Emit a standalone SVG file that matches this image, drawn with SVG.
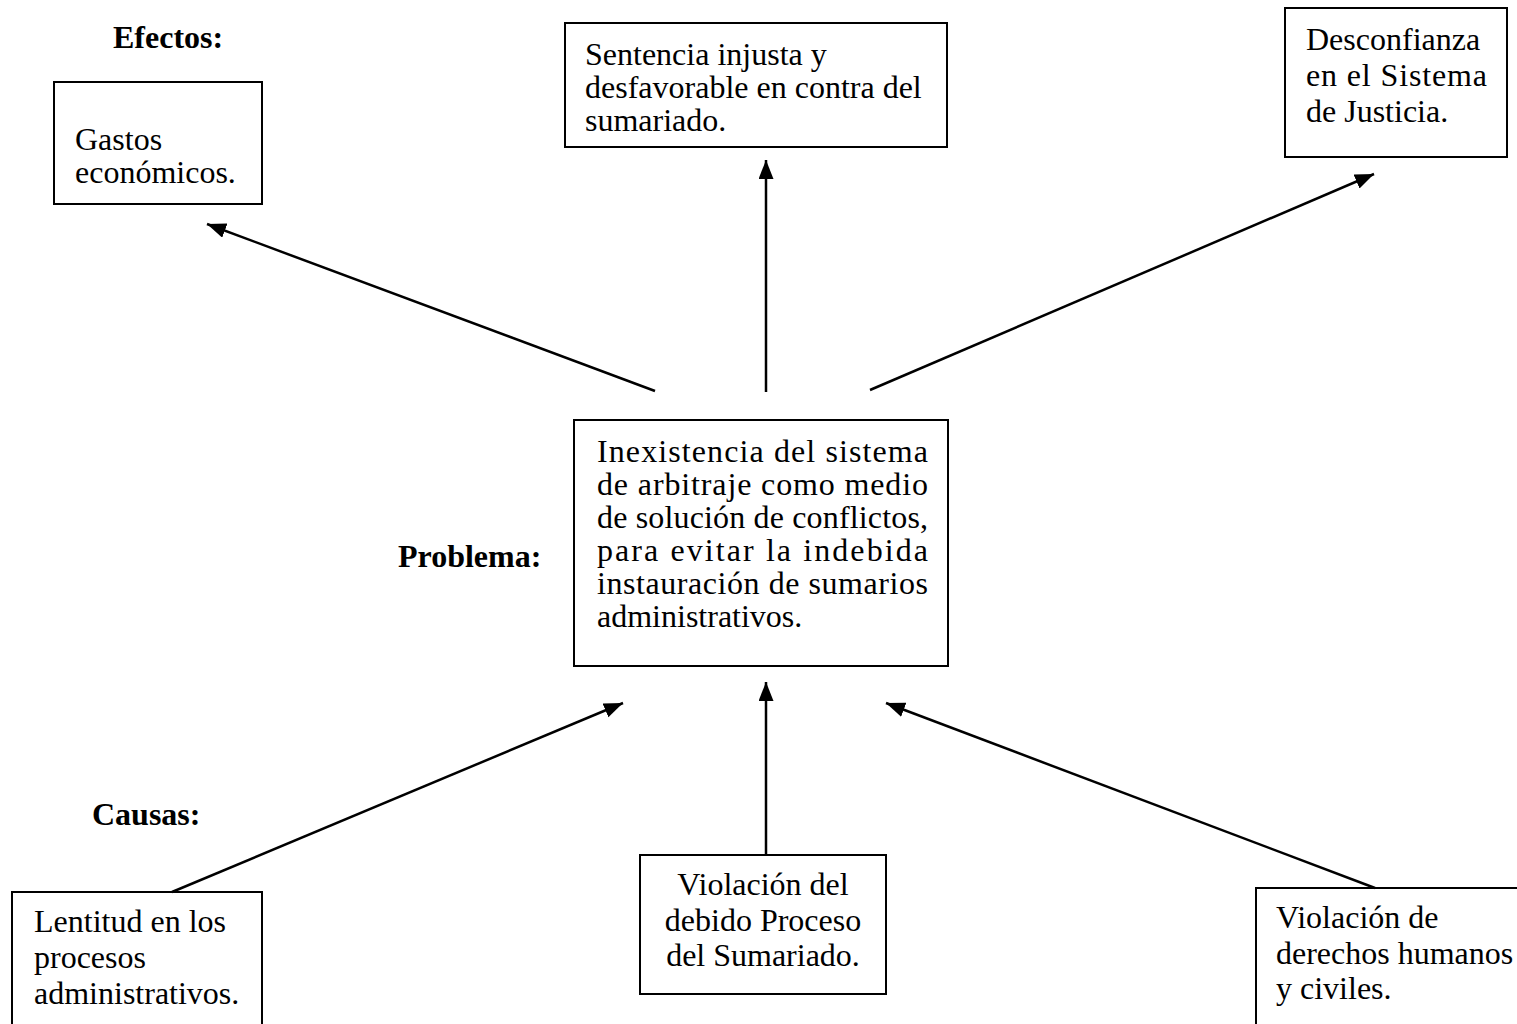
<svg xmlns="http://www.w3.org/2000/svg" width="1517" height="1024" viewBox="0 0 1517 1024">
<defs>
<style>
.box{fill:#fff;stroke:#000;stroke-width:2}
.t{font-family:"Liberation Serif","Times New Roman",serif;font-size:32px;fill:#000}
.b{font-family:"Liberation Serif","Times New Roman",serif;font-size:32px;font-weight:bold;fill:#000}
.c{text-anchor:middle}
.ln{stroke:#000;stroke-width:2.5;fill:none;marker-end:url(#ah)}
</style>
<marker id="ah" markerUnits="userSpaceOnUse" markerWidth="20" markerHeight="16" refX="19" refY="7.5" orient="auto">
<path d="M0,0 L19,7.5 L0,15 z" fill="#000"/>
</marker>
</defs>
<rect width="1517" height="1024" fill="#fff"/>
<g id="labels">
<text class="b" x="113" y="48">Efectos:</text>
<text class="b" x="398" y="567">Problema:</text>
<text class="b" x="92" y="825">Causas:</text>
</g>
<g id="gastos">
<rect class="box" x="54" y="82" width="208" height="122"/>
<text class="t" x="75" y="150">Gastos</text>
<text class="t" x="75" y="183">económicos.</text>
</g>
<g id="sentencia">
<rect class="box" x="565" y="23" width="382" height="124"/>
<text class="t" x="585" y="65">Sentencia injusta y</text>
<text class="t" x="585" y="98">desfavorable en contra del</text>
<text class="t" x="585" y="131">sumariado.</text>
</g>
<g id="desconfianza">
<rect class="box" x="1285" y="8" width="222" height="149"/>
<text class="t" x="1306" y="50">Desconfianza</text>
<text class="t" x="1306" y="86" textLength="181" lengthAdjust="spacing">en el Sistema</text>
<text class="t" x="1306" y="122">de Justicia.</text>
</g>
<g id="problema">
<rect class="box" x="574" y="420" width="374" height="246"/>
<text class="t" x="597" y="462" textLength="331" lengthAdjust="spacing">Inexistencia del sistema</text>
<text class="t" x="597" y="495" textLength="331" lengthAdjust="spacing">de arbitraje como medio</text>
<text class="t" x="597" y="528" textLength="331" lengthAdjust="spacing">de solución de conflictos,</text>
<text class="t" x="597" y="561" textLength="331" lengthAdjust="spacing">para evitar la indebida</text>
<text class="t" x="597" y="594" textLength="331" lengthAdjust="spacing">instauración de sumarios</text>
<text class="t" x="597" y="627">administrativos.</text>
</g>
<g id="lentitud">
<rect class="box" x="12" y="892" width="250" height="140"/>
<text class="t" x="34" y="932">Lentitud en los</text>
<text class="t" x="34" y="968">procesos</text>
<text class="t" x="34" y="1004">administrativos.</text>
</g>
<g id="debido">
<rect class="box" x="640" y="855" width="246" height="139"/>
<text class="t c" x="763" y="895">Violación del</text>
<text class="t c" x="763" y="931">debido Proceso</text>
<text class="t c" x="763" y="966">del Sumariado.</text>
</g>
<g id="derechos">
<rect class="box" x="1256" y="888" width="270" height="144"/>
<text class="t" x="1276" y="928">Violación de</text>
<text class="t" x="1276" y="964">derechos humanos</text>
<text class="t" x="1276" y="999">y civiles.</text>
</g>
<g id="connectors">
<line class="ln" x1="655" y1="391" x2="207" y2="224"/>
<line class="ln" x1="766" y1="392" x2="766" y2="160"/>
<line class="ln" x1="870" y1="390" x2="1374" y2="174"/>
<line class="ln" x1="172" y1="892" x2="623" y2="703"/>
<line class="ln" x1="766" y1="855" x2="766" y2="682"/>
<line class="ln" x1="1375" y1="888" x2="886" y2="703"/>
</g>
</svg>
